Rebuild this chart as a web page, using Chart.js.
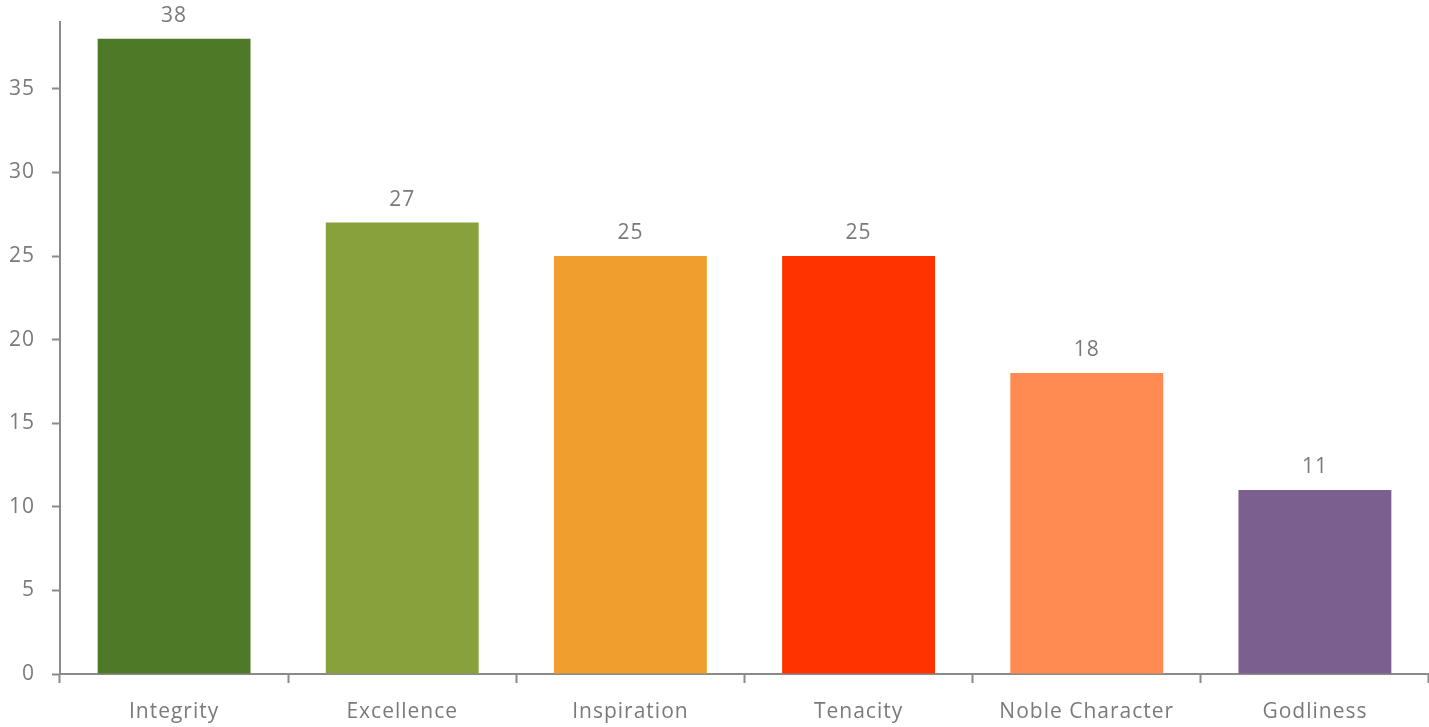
<!DOCTYPE html>
<html>
<head>
<meta charset="utf-8">
<script src="https://cdn.jsdelivr.net/npm/chart.js@4/dist/chart.umd.min.js"></script>
<style>
  html, body { margin: 0; padding: 0; background: #fff; }
  #wrap { width: 1429px; height: 727px; position: relative; }
</style>
</head>
<body>
<div id="wrap"><canvas id="barChart"></canvas></div>
<script>
const categories = ['Integrity', 'Excellence', 'Inspiration', 'Tenacity', 'Noble Character', 'Godliness'];
const counts = [38, 27, 25, 25, 18, 11];
const barColors = ['#4e7a28', '#87a23d', '#f09f2e', '#ff3300', '#ff8b52', '#7b5f8e'];
const yTicks = [0, 5, 10, 15, 20, 25, 30, 35];

const textGray = '#7a7a7a';
const axisGray = '#8a8a8a';

// value labels drawn above each bar, positions taken from the bar elements
const valueLabels = {
    id: 'valueLabels',
    afterDatasetsDraw(chart) {
        const ctx = chart.ctx;
        const meta = chart.getDatasetMeta(0);
        ctx.save();
        ctx.font = '21px "Open Sans"';
        ctx.fillStyle = textGray;
        ctx.textAlign = 'center';
        ctx.textBaseline = 'middle';
        meta.data.forEach((bar, i) => {
            ctx.fillText(String(counts[i]), bar.x, bar.y - 23);
        });
        ctx.restore();
    }
};

const spacing = {
    id: 'spacing',
    beforeDraw(chart) {
        chart.ctx.letterSpacing = '1px';
    }
};

new Chart(document.getElementById('barChart').getContext('2d'), {
    type: 'bar',
    data: {
        labels: categories,
        datasets: [{
            data: counts,
            backgroundColor: barColors,
            borderWidth: 0,
            categoryPercentage: 0.67,
            barPercentage: 1.0
        }]
    },
    options: {
        responsive: true,
        maintainAspectRatio: false,
        animation: false,
        layout: { padding: { top: 22, left: 0, right: 0, bottom: 0 } },
        plugins: {
            legend: { display: false },
            tooltip: { enabled: false }
        },
        scales: {
            x: {
                grid: {
                    display: true,
                    drawOnChartArea: false,
                    drawTicks: true,
                    tickLength: 9,
                    tickWidth: 2,
                    tickColor: axisGray,
                    offset: true
                },
                border: { display: true, color: axisGray, width: 2 },
                ticks: {
                    color: textGray,
                    font: { family: 'Open Sans', size: 21 },
                    padding: 16,
                    maxRotation: 0,
                    autoSkip: false
                },
                afterFit(scale) {
                    scale.height = 53;
                    scale.paddingLeft = 0;
                    scale.paddingRight = 0;
                }
            },
            y: {
                min: 0,
                max: 39,
                grid: {
                    display: true,
                    drawOnChartArea: false,
                    drawTicks: true,
                    tickLength: 8,
                    tickWidth: 2,
                    tickColor: axisGray
                },
                border: { display: true, color: axisGray, width: 2 },
                afterBuildTicks(scale) {
                    scale.ticks = yTicks.map(v => ({ value: v }));
                },
                ticks: {
                    color: textGray,
                    font: { family: 'Open Sans', size: 21 },
                    padding: 17
                },
                afterFit(scale) {
                    scale.width = 60;
                    scale.paddingTop = 0;
                    scale.paddingBottom = 0;
                }
            }
        }
    },
    plugins: [spacing, valueLabels]
});
</script>
</body>
</html>
